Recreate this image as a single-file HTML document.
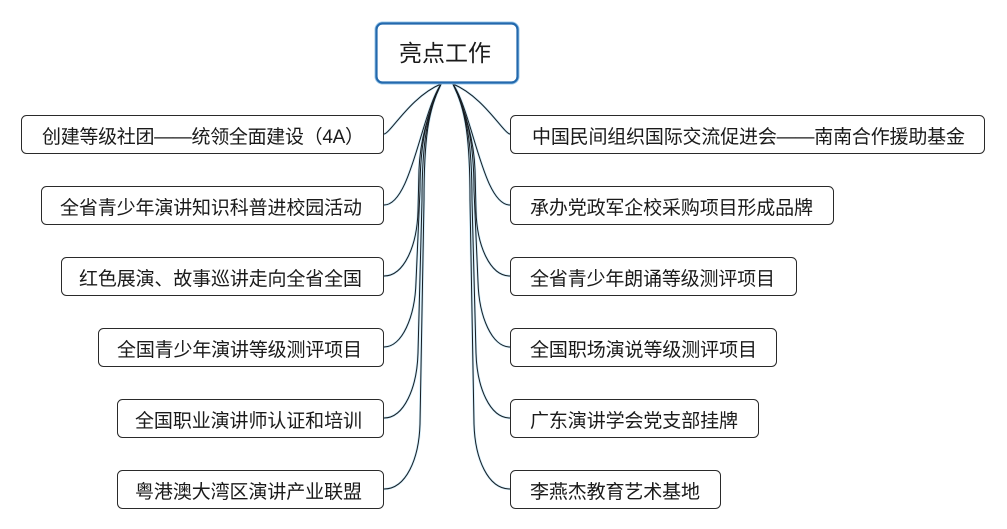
<!DOCTYPE html>
<html><head><meta charset="utf-8">
<style>
html,body{margin:0;padding:0;background:#fff;}
svg{display:block;}
text{font-family:"Liberation Sans","Noto Sans CJK SC","WenQuanYi Zen Hei",sans-serif;fill:#1a1a1a;}
</style></head>
<body>
<svg width="1007" height="529" viewBox="0 0 1007 529" xmlns="http://www.w3.org/2000/svg">
<rect width="1007" height="529" fill="#fff"/>
<defs>
<g id="curves">
<path d="M441 84 C410.5 96.5 390 134 384 134"/>
<path d="M441 84 C421 114 411 205 384 205"/>
<path d="M441 84 C429 110 420 140 419 170 L418 211 C417 246 404 276 384 276"/>
<path d="M441 84 C428 110 420 140 420 190 L416 282 C415 317 402 347 384 347"/>
<path d="M441 84 C428 110 422 140 422 200 L418 353 C417 388 404 418 384 418"/>
<path d="M441 84 C428 110 424 140 424 200 L420 424 C419 459 406 489 384 489"/>
<path d="M453 84 C483.5 96.5 504 134 510 134"/>
<path d="M453 84 C473 114 483 205 510 205"/>
<path d="M453 84 C465 110 474 140 475 170 L476 211 C477 246 490 276 510 276"/>
<path d="M453 84 C466 110 474 140 474 190 L478 282 C479 317 492 347 510 347"/>
<path d="M453 84 C466 110 472 140 472 200 L476 353 C477 388 490 418 510 418"/>
<path d="M453 84 C466 110 470 140 470 200 L474 424 C475 459 488 489 510 489"/>
</g>
</defs>
<use href="#curves" fill="none" stroke="#6ec6f0" stroke-width="2.4" opacity="0.35"/>
<use href="#curves" fill="none" stroke="#161c22" stroke-width="1"/>

<!-- root -->
<rect x="376.5" y="23.5" width="141" height="59" rx="6" ry="6" fill="#fff" stroke="#9cc8ea" stroke-width="4"/>
<rect x="376.5" y="23.5" width="141" height="59" rx="6" ry="6" fill="#fff" stroke="#2369ad" stroke-width="2.2"/>
<text x="445" y="61" font-size="23" text-anchor="middle" textLength="92" lengthAdjust="spacing">亮点工作</text>

<!-- left boxes -->
<g fill="#fff" stroke="#2a2a2a" stroke-width="1">
<rect x="21.5" y="115.5" width="362" height="38" rx="5"/>
<rect x="41.5" y="186.5" width="342" height="38" rx="5"/>
<rect x="61.5" y="257.5" width="322" height="38" rx="5"/>
<rect x="98.5" y="328.5" width="285" height="38" rx="5"/>
<rect x="117.5" y="399.5" width="266" height="38" rx="5"/>
<rect x="117.5" y="470.5" width="266" height="38" rx="5"/>
</g>
<g font-size="19">
<text x="42" y="143" textLength="322" lengthAdjust="spacing">创建等级社团——统领全面建设（4A）</text>
<text x="60" y="214" textLength="302" lengthAdjust="spacing">全省青少年演讲知识科普进校园活动</text>
<text x="79" y="285" textLength="283" lengthAdjust="spacing">红色展演、故事巡讲走向全省全国</text>
<text x="117" y="356" textLength="245" lengthAdjust="spacing">全国青少年演讲等级测评项目</text>
<text x="135" y="427" textLength="227" lengthAdjust="spacing">全国职业演讲师认证和培训</text>
<text x="135" y="498" textLength="227" lengthAdjust="spacing">粤港澳大湾区演讲产业联盟</text>
</g>

<!-- right boxes -->
<g fill="#fff" stroke="#2a2a2a" stroke-width="1">
<rect x="510.5" y="115.5" width="474" height="38" rx="5"/>
<rect x="510.5" y="186.5" width="323" height="38" rx="5"/>
<rect x="510.5" y="257.5" width="286" height="38" rx="5"/>
<rect x="510.5" y="328.5" width="266" height="38" rx="5"/>
<rect x="510.5" y="399.5" width="248" height="38" rx="5"/>
<rect x="510.5" y="470.5" width="210" height="38" rx="5"/>
</g>
<g font-size="19">
<text x="532" y="143" textLength="433" lengthAdjust="spacing">中国民间组织国际交流促进会——南南合作援助基金</text>
<text x="530" y="214" textLength="283" lengthAdjust="spacing">承办党政军企校采购项目形成品牌</text>
<text x="530" y="285" textLength="245" lengthAdjust="spacing">全省青少年朗诵等级测评项目</text>
<text x="530" y="356" textLength="227" lengthAdjust="spacing">全国职场演说等级测评项目</text>
<text x="530" y="427" textLength="208" lengthAdjust="spacing">广东演讲学会党支部挂牌</text>
<text x="530" y="498" textLength="170" lengthAdjust="spacing">李燕杰教育艺术基地</text>
</g>
</svg>
</body></html>
